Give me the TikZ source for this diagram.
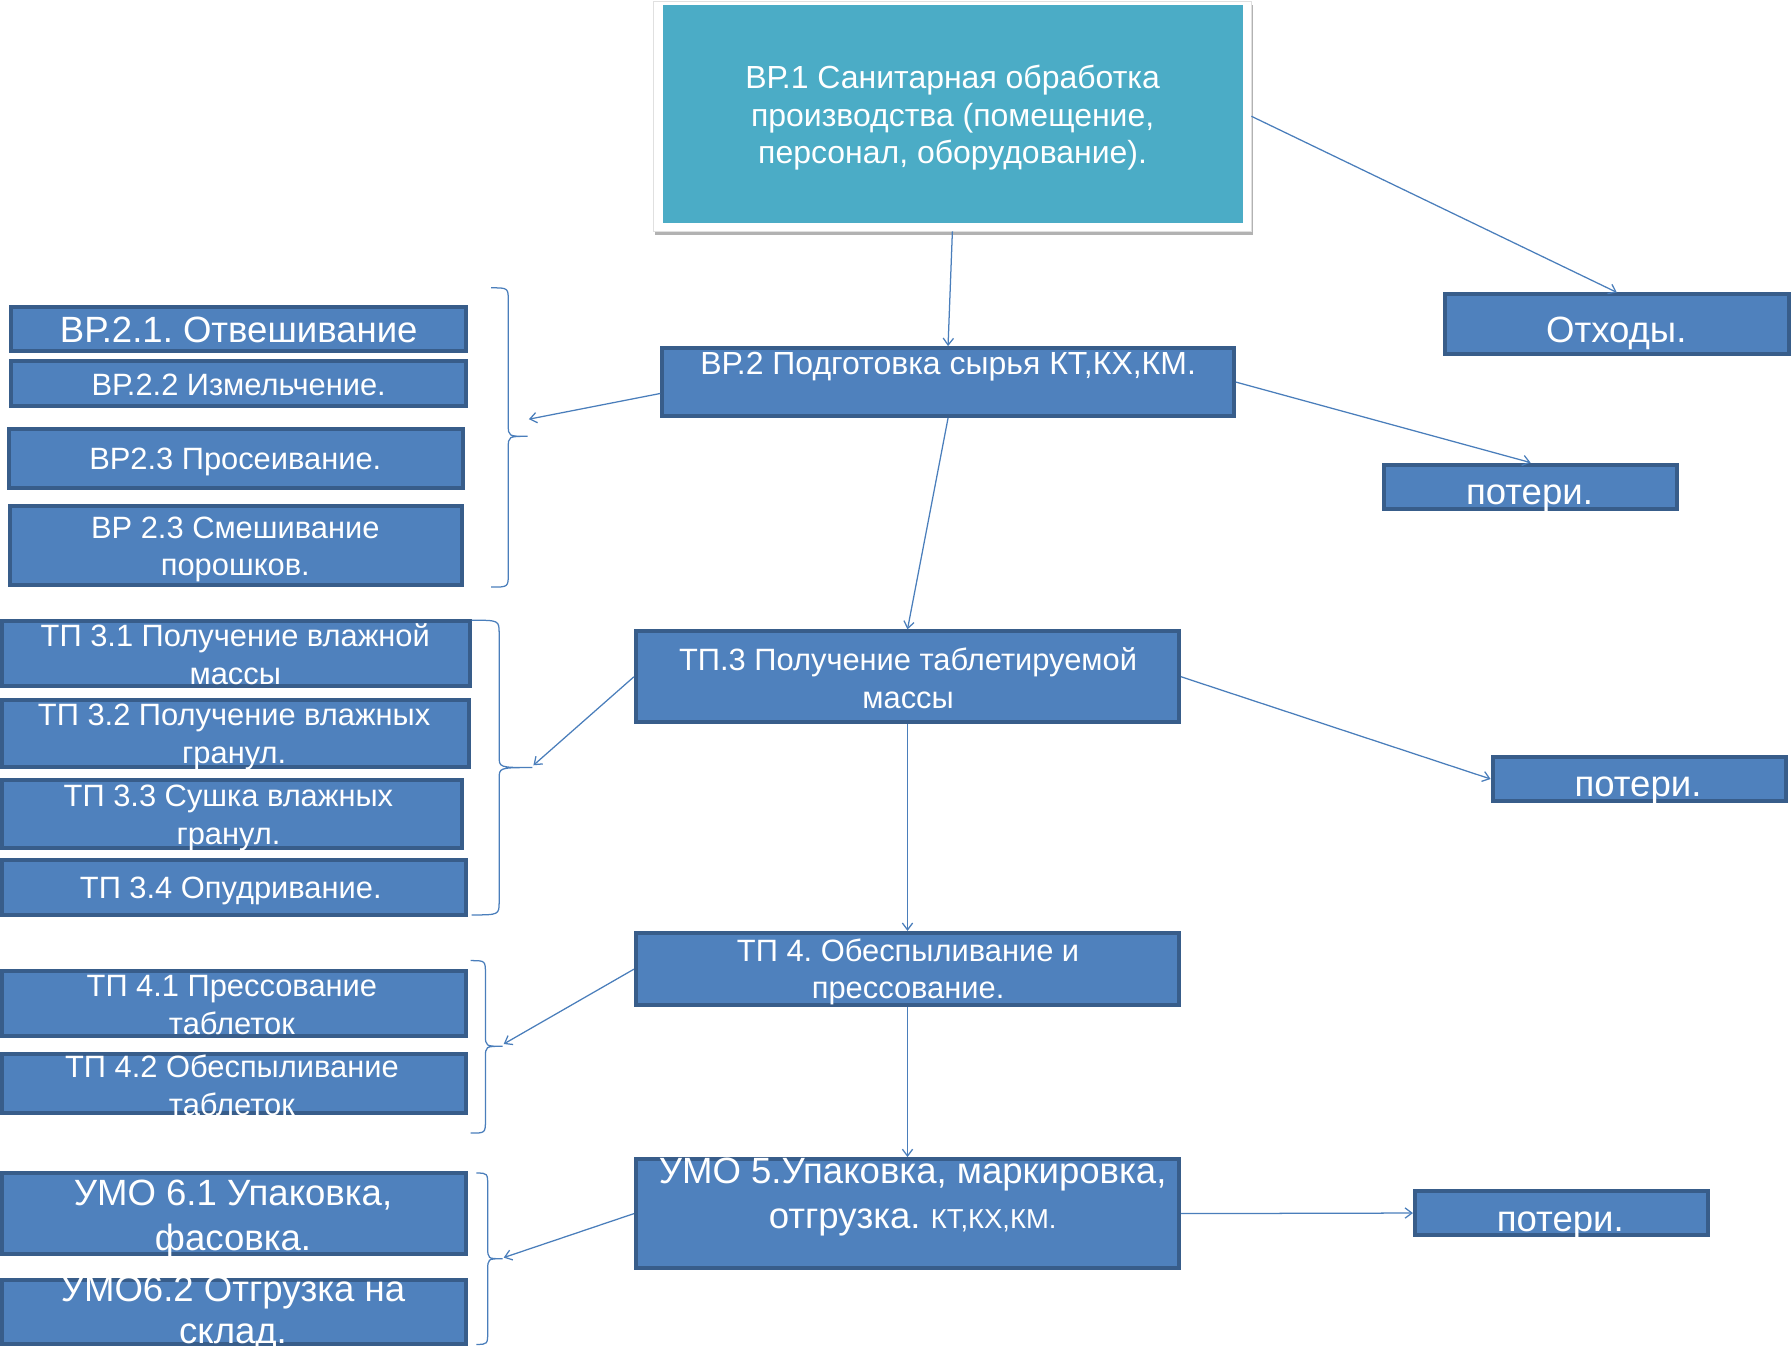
\documentclass[tikz,border=0pt]{standalone}
\usepackage{fontspec}
\setmainfont{Liberation Sans}
\usetikzlibrary{arrows.meta,shadows}
\definecolor{boxblue}{HTML}{4F81BD}
\definecolor{boxedge}{HTML}{385D8A}
\definecolor{tealbox}{HTML}{4BACC6}
\definecolor{arrblue}{HTML}{4A7EBB}
\newcommand\mkbox[6]{\node[#1, minimum width={(#5-#3-3.5)*1pt}, minimum height={(#6-#4-3.5)*1pt}] (#2) at (#3,#4) {};}
\newcommand\brce[7]{%
  \draw[brc] (#2,#5) .. controls (#3,#5) .. (#3,{#5+12}) -- (#3,{#6-10}) .. controls (#3,#6) .. (#4,#6) .. controls (#3,#6) .. (#3,{#6+10}) -- (#3,{#7-12}) .. controls (#3,#7) .. (#2,#7);
  \coordinate (#1) at (#4,#6);}
\begin{document}
\frenchspacing
\begin{tikzpicture}[x=1pt,y=-1pt,
  box/.style={draw=boxedge, fill=boxblue, line width=3.5pt, inner sep=0pt, anchor=north west},
  frame/.style={draw=black!12, fill=white, line width=0.6pt, inner sep=0pt, anchor=north west,
     drop shadow={shadow xshift=1.5pt, shadow yshift=-3.5pt, fill=black!60, opacity=0.5}},
  tealfill/.style={fill=tealbox, inner sep=0pt, anchor=north west},
  txt/.style={text=white, align=center, inner sep=0pt},
  fa/.style={font=\fontsize{27}{33}\selectfont},
  fb/.style={font=\fontsize{32}{39}\selectfont},
  fc/.style={font=\fontsize{28}{33}\selectfont},
  arr/.style={draw=arrblue, line width=1.1pt, -{Straight Barb[length=6pt,width=9pt]}},
  brc/.style={draw=arrblue, line width=1.1pt}]
\useasboundingbox (0,0) rectangle (1568,1182);

% top box
\node[frame, minimum width=523pt, minimum height=201pt] (vp1f) at (572,1) {};
\node[tealfill, minimum width=508pt, minimum height=191pt] (vp1) at (580,4) {};
\node[txt,fc] (t1) at (834,103) {ВР.1 Санитарная обработка\\производства (помещение,\\персонал, оборудование).};

% right boxes
\mkbox{box}{otx}{1263}{256}{1568}{312}
\node[txt,fb] (totx) at (1415,292) {Отходы.};
\mkbox{box}{pot1}{1210}{405}{1470}{447}
\node[txt,fb] (tpot1) at (1339,436) {потери.};
\mkbox{box}{pot2}{1305}{661}{1565}{703}
\node[txt,fb] (tpot2) at (1434,692) {потери.};
\mkbox{box}{pot3}{1237}{1041}{1497}{1083}
\node[txt,fb] (tpot3) at (1366,1073) {потери.};

% central column
\mkbox{box}{vp2}{578}{303}{1082}{366}
\node[txt,font=\fontsize{28}{33}\selectfont] (tvp2) at (830,321) {ВР.2 Подготовка сырья КТ,КХ,КМ.};
\mkbox{box}{tp3}{555}{551}{1034}{634}
\node[txt,fa] (ttp3) at (795,594) {ТП.3 Получение таблетируемой\\массы};
\mkbox{box}{tp4}{555}{815}{1034}{882}
\node[txt,fa] (ttp4) at (795,851) {ТП 4. Обеспыливание и\\прессование.};
\mkbox{box}{umo5}{555}{1013}{1034}{1112}
\node[txt,fb] (tumo5) at (799,1048) {УМО 5.Упаковка, маркировка,\\отгрузка. {\fontsize{24}{39}\selectfont КТ,КХ,КМ.}};

% left boxes
\mkbox{box}{b21}{8}{267}{410}{309}
\node[txt,fb] (tb21) at (209,289) {ВР.2.1. Отвешивание};
\mkbox{box}{b22}{8}{314}{410}{357}
\node[txt,fa] (tb22) at (209,337) {ВР.2.2 Измельчение.};
\mkbox{box}{b23}{6}{374}{407}{429}
\node[txt,fa] (tb23) at (206,404) {ВР2.3 Просеивание.};
\mkbox{box}{b24}{7}{441}{406}{514}
\node[txt,fa] (tb24) at (206,481) {ВР 2.3 Смешивание\\порошков.};

\mkbox{box}{b31}{0}{542}{413}{602}
\node[txt,fa] (tb31) at (206,573) {ТП 3.1 Получение влажной\\массы};
\mkbox{box}{b32}{0}{611}{412}{673}
\node[txt,fa] (tb32) at (205,645) {ТП 3.2 Получение влажных\\гранул.};
\mkbox{box}{b33}{0}{681}{406}{744}
\node[txt,fa] (tb33) at (200,716) {ТП 3.3 Сушка влажных\\гранул.};
\mkbox{box}{b34}{0}{751}{410}{803}
\node[txt,fa] (tb34) at (202,780) {ТП 3.4 Опудривание.};

\mkbox{box}{b41}{0}{848}{410}{909}
\node[txt,fa] (tb41) at (203,880) {ТП 4.1 Прессование\\таблеток};
\mkbox{box}{b42}{0}{921}{410}{976}
\node[txt,fa] (tb42) at (203,950) {ТП 4.2 Обеспыливание\\таблеток};

\mkbox{box}{b61}{0}{1025}{410}{1100}
\node[txt,fb] (tb61) at (204,1067) {УМО 6.1 Упаковка,\\фасовка.};
\mkbox{box}{b62}{0}{1119}{410}{1178}
\node[txt,font=\fontsize{32}{37}\selectfont] (tb62) at (204,1150) {УМО6.2 Отгрузка на\\склад.};

% braces
\brce{br1}{430}{445}{462}{252}{382}{514}
\brce{br2}{413}{437}{466}{543}{672}{801}
\brce{br3}{412}{425}{440}{841}{916}{992}
\brce{br4}{417}{427}{440}{1027}{1102}{1177}
\coordinate (e1) at (463,367);
\coordinate (e2) at (467,670);
\coordinate (e3) at (441,914);
\coordinate (e4) at (441,1101);

% connectors
\draw[arr] (vp1f.south) -- (vp2.north);
\draw[arr] (vp1f.east) -- (otx.north);
\draw[arr] (vp2.east) -- (pot1.north);
\draw[arr] (vp2.south) -- (tp3.north);
\draw[arr] ([yshift=-10pt]vp2.west) -- (e1);
\draw[arr] (tp3.west) -- (e2);
\draw[arr] (tp3.east) -- (pot2.west);
\draw[arr] (tp3.south) -- (tp4.north);
\draw[arr] (tp4.west) -- (e3);
\draw[arr] (tp4.south) -- (umo5.north);
\draw[arr] (umo5.west) -- (e4);
\draw[arr] (umo5.east) -- (pot3.west);
\end{tikzpicture}
\end{document}
